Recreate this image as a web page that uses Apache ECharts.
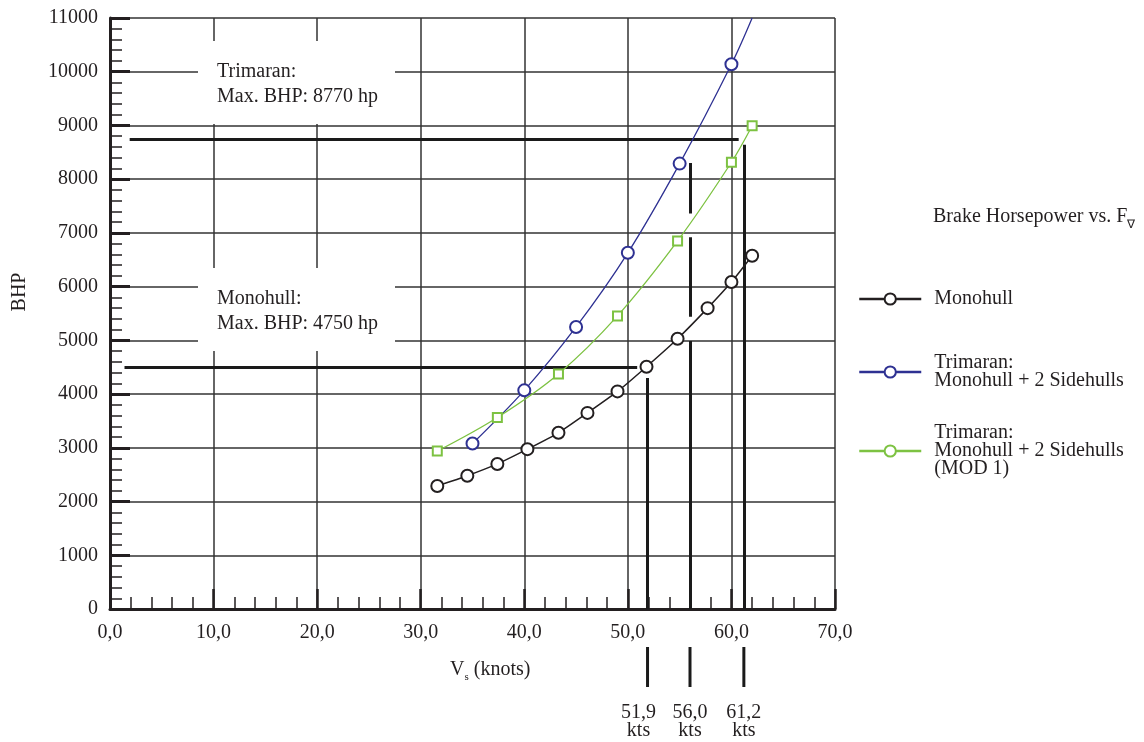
<!DOCTYPE html>
<html>
<head>
    <meta charset="UTF-8">
    <title>BHP vs speed</title>
    <script src="https://cdn.jsdelivr.net/npm/echarts@6/dist/echarts.min.js"></script>
</head>
<body style="margin:0">
<div id="chartDom" style="width: 1144px;height:742px;"></div>

<script type="text/javascript">
    // data
    var speedMono = [31.6, 34.5, 37.4, 40.3, 43.3, 46.1, 49.0, 51.8, 54.8, 57.7, 60.0, 62.0];
    var bhpMono = [2290, 2480, 2700, 2975, 3280, 3650, 4050, 4510, 5030, 5600, 6085, 6575];
    var speedTri = [35.0, 40.0, 45.0, 50.0, 55.0, 60.0, 62.0];
    var bhpTri = [3080, 4070, 5250, 6630, 8290, 10140, 11000];
    var speedMod1 = [31.6, 37.4, 43.3, 49.0, 54.8, 60.0, 62.0];
    var bhpMod1 = [2940, 3565, 4375, 5455, 6850, 8315, 8995];

    // max BHP lines: [value, from speed, to speed]
    var maxLines = [[8750, 1.9, 60.7], [4500, 1.4, 50.9]];
    // max speed markers: speed, and the bhp spans drawn (gaps where curves cross)
    var maxSpeeds = [51.9, 56.0, 61.2];
    var speedSpans = [[[4300, 0]], [[8300, 7360], [6920, 5440], [4990, 0]], [[8640, 0]]];
    var speedLabels = ['51,9', '56,0', '61,2'];

    var nameMono = 'Monohull';
    var nameTri = 'Trimaran:\nMonohull + 2 Sidehulls';
    var nameMod1 = 'Trimaran:\nMonohull + 2 Sidehulls\n(MOD 1)';

    var FONT = 'Liberation Serif';
    var INK = '#231f20';

    var myChart = echarts.init(document.getElementById('chartDom'));

    function pairs(xs, ys) {
        return xs.map(function (x, i) { return [x, ys[i]]; });
    }

    var triData = pairs(speedTri, bhpTri).map(function (p, i) {
        // last point only marks where the curve leaves the plot
        return i === speedTri.length - 1 ? { value: p, symbol: 'none' } : p;
    });

    var segs = [];
    maxLines.forEach(function (l) {
        segs.push({ coords: [[l[1], l[0]], [l[2], l[0]]] });
    });
    maxSpeeds.forEach(function (s, i) {
        speedSpans[i].forEach(function (sp) {
            segs.push({ coords: [[s, sp[0]], [s, sp[1]]] });
        });
    });

    var legendCommon = {
        orient: 'vertical',
        left: 858,
        padding: 0,
        itemWidth: 62,
        itemHeight: 14,
        selectedMode: false,
        textStyle: { fontFamily: FONT, fontSize: 20, lineHeight: 18, color: INK, padding: [0, 0, 0, 8] },
        itemStyle: { borderWidth: 2.5 },
        lineStyle: { width: 2.5 }
    };

    var option = {
        animation: false,
        backgroundColor: '#fff',
        grid: { left: 110, right: 309, top: 18, bottom: 133 },
        legend: [
            Object.assign({}, legendCommon, { data: [nameMono], top: 289 }),
            Object.assign({}, legendCommon, { data: [nameTri], top: 353 }),
            Object.assign({}, legendCommon, { data: [nameMod1], top: 423 })
        ],
        xAxis: {
            type: 'value', min: 0, max: 70, interval: 10,
            axisLine: { lineStyle: { color: INK, width: 3 } },
            axisTick: { inside: true, length: 20, lineStyle: { color: INK, width: 2.5 } },
            minorTick: { show: true, splitNumber: 5, length: 12, lineStyle: { color: INK, width: 1.5 } },
            splitLine: { show: true, lineStyle: { color: '#333', width: 1.5 } },
            axisLabel: {
                margin: 14, fontFamily: FONT, fontSize: 20, color: INK,
                formatter: function (v) { return v.toFixed(1).replace('.', ','); }
            }
        },
        yAxis: {
            type: 'value', min: 0, max: 11000, interval: 1000,
            axisLine: { lineStyle: { color: INK, width: 3 } },
            axisTick: { inside: true, length: 20, lineStyle: { color: INK, width: 3 } },
            minorTick: { show: true, splitNumber: 5, length: 12, lineStyle: { color: INK, width: 1.5 } },
            splitLine: { show: true, lineStyle: { color: '#333', width: 1.5 } },
            axisLabel: {
                margin: 12, fontFamily: FONT, fontSize: 20, color: INK,
                formatter: function (v) { return String(v); }
            }
        },
        series: [
            {
                type: 'lines', coordinateSystem: 'cartesian2d', polyline: false, silent: true, z: 1,
                lineStyle: { color: '#1a1a1a', width: 3, opacity: 1 },
                data: segs
            },
            {
                name: nameMono, type: 'line', smooth: 0.2, data: pairs(speedMono, bhpMono),
                color: INK, symbol: 'emptyCircle', symbolSize: 12,
                lineStyle: { width: 1.5 }, itemStyle: { borderWidth: 2.5 }
            },
            {
                name: nameTri, type: 'line', smooth: 0.35, data: triData,
                color: '#2e3192', symbol: 'emptyCircle', symbolSize: 12,
                lineStyle: { width: 1.3 }, itemStyle: { borderWidth: 2.5 }
            },
            {
                name: 'mod1 curve', type: 'line', smooth: 0.35, data: pairs(speedMod1, bhpMod1),
                color: '#7dc242', symbol: 'emptyRect', symbolSize: 9,
                lineStyle: { width: 1.3 }, itemStyle: { borderWidth: 2.5 }
            },
            {
                // legend entry for MOD 1 is shown with a circle
                name: nameMod1, type: 'line', data: [],
                color: '#7dc242', symbol: 'emptyCircle', symbolSize: 12,
                itemStyle: { borderWidth: 2.5 }
            }
        ]
    };
    myChart.setOption(option);

    // annotations, placed from the axes
    var axisY = myChart.convertToPixel({ gridIndex: 0 }, [0, 0])[1];
    var g = [];
    maxSpeeds.forEach(function (s, i) {
        var px = myChart.convertToPixel({ gridIndex: 0 }, [s, 0])[0];
        g.push({
            type: 'line', z: 10,
            shape: { x1: px, y1: axisY + 38, x2: px, y2: axisY + 78 },
            style: { stroke: '#1a1a1a', lineWidth: 3 }
        });
        g.push({
            type: 'text', z: 10, x: px - (i === 0 ? 9 : 0), y: axisY + 113,
            style: {
                text: speedLabels[i] + '\nkts', fill: INK, font: '20px "' + FONT + '"',
                align: 'center', verticalAlign: 'middle', lineHeight: 18
            }
        });
    });

    function noteBox(y, title, body) {
        g.push({ type: 'rect', z: 8, shape: { x: 198, y: y, width: 197, height: 83 }, style: { fill: '#fff' } });
        g.push({
            type: 'text', z: 9, x: 217, y: y + 43,
            style: {
                text: title + '\n' + body, fill: INK, font: '20px "' + FONT + '"',
                verticalAlign: 'middle', lineHeight: 25
            }
        });
    }
    noteBox(41, 'Trimaran:', 'Max. BHP: 8770 hp');
    noteBox(268, 'Monohull:', 'Max. BHP: 4750 hp');

    g.push({
        type: 'text', z: 10, x: 20, y: 292, rotation: Math.PI / 2,
        style: { text: 'BHP', fill: INK, font: '20px "' + FONT + '"', align: 'center', verticalAlign: 'middle' }
    });
    g.push({
        type: 'text', z: 10, x: 450, y: 670,
        style: {
            text: 'V{s|s} (knots)', fill: INK, font: '20px "' + FONT + '"', verticalAlign: 'middle',
            rich: { s: { fontFamily: FONT, fontSize: 11, padding: [14, 0, 0, 0], fill: INK } }
        }
    });
    g.push({
        type: 'text', z: 10, x: 933, y: 217,
        style: {
            text: 'Brake Horsepower vs. F{s|\u2207}', fill: INK, font: '20px "' + FONT + '"', verticalAlign: 'middle',
            rich: { s: { fontFamily: FONT, fontSize: 12, padding: [16, 0, 0, 0], fill: INK } }
        }
    });
    myChart.setOption({ graphic: g });
</script>
</body>
</html>
